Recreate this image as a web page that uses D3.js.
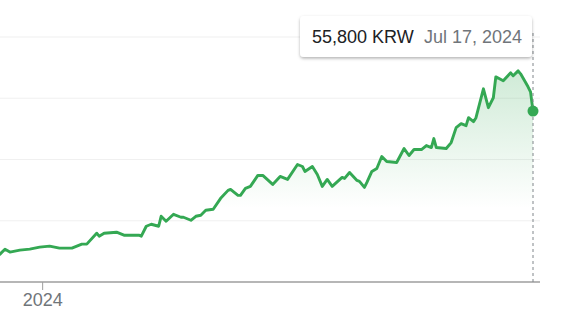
<!DOCTYPE html>
<html lang="en">
<head>
  <meta charset="UTF-8" />
  <title>Price chart – KRW</title>
  <style>
    body {
      margin: 0;
      background: #fff;
      font-family: Arial, 'Liberation Sans', sans-serif;
    }
    svg { display: block; }
    .grid line { stroke: #f0f0f0; stroke-width: 1.2; }
    .x.axis path, .x.axis line { stroke: #9e9e9e; }
    .x.axis text { font-size: 18px; fill: #70757a; font-family: Arial, 'Liberation Sans', sans-serif; }
  </style>
</head>
<body>
  <svg id="chart" width="562" height="328"></svg>

  <script src="https://d3js.org/d3.v7.min.js"></script>
  <script>
    // Data (daily closes, KRW)
    const dates = [
      "2023-12-15","2023-12-17","2023-12-19","2023-12-23","2023-12-27","2023-12-31",
      "2024-01-04","2024-01-08","2024-01-13","2024-01-17","2024-01-19","2024-01-23",
      "2024-01-24","2024-01-26","2024-01-31","2024-02-03","2024-02-09","2024-02-10",
      "2024-02-12","2024-02-14","2024-02-17","2024-02-18","2024-02-20","2024-02-23",
      "2024-02-26","2024-02-27","2024-03-01","2024-03-03","2024-03-05","2024-03-07",
      "2024-03-10","2024-03-13","2024-03-16","2024-03-17","2024-03-20","2024-03-21",
      "2024-03-23","2024-03-25","2024-03-28","2024-03-30","2024-04-03","2024-04-06",
      "2024-04-09","2024-04-13","2024-04-15","2024-04-16","2024-04-19","2024-04-21",
      "2024-04-23","2024-04-25","2024-04-27","2024-05-01","2024-05-02","2024-05-04",
      "2024-05-07","2024-05-08","2024-05-10","2024-05-11","2024-05-13","2024-05-15",
      "2024-05-17","2024-05-19","2024-05-23","2024-05-26","2024-05-28","2024-05-30",
      "2024-06-02","2024-06-04","2024-06-06","2024-06-07","2024-06-08","2024-06-12",
      "2024-06-14","2024-06-16","2024-06-18","2024-06-20","2024-06-21","2024-06-23",
      "2024-06-24","2024-06-27","2024-06-29","2024-07-01","2024-07-02","2024-07-05",
      "2024-07-08","2024-07-09","2024-07-11","2024-07-12","2024-07-15","2024-07-16",
      "2024-07-17"
    ];
    const prices = [
      9100, 10700, 9760, 10400, 10730, 11380,
      11710, 11060, 11060, 12360, 12360, 15940,
      14960, 15940, 16260, 15280, 15280, 14960,
      18210, 18860, 18210, 21460, 19840, 22110,
      21140, 21140, 20160, 21460, 21790, 23410,
      23740, 27320, 29920, 30240, 28290, 28290,
      30570, 31220, 34800, 34800, 31870, 34470,
      33500, 38370, 37720, 36100, 37720, 35120,
      31220, 33500, 31220, 34150, 33820, 35770,
      33170, 32850, 30890, 32520, 36100, 37070,
      40980, 39350, 39020, 43580, 41300, 43250,
      43250, 44550, 43900, 46830, 43900, 43580,
      45530, 50410, 51710, 51060, 53660, 52360,
      53660, 63090, 56910, 60160, 66990, 65690,
      68290, 67320, 68940, 67970, 63740, 62110,
      55800
    ];
    const gridValues = [20000, 40000, 60000, 80000];
    const xTicks = ["2024-01-01"];
    const tooltipPrice = "55,800 KRW";
    const tooltipDate = "Jul 17, 2024";

    const parse = d3.timeParse("%Y-%m-%d");
    const data = dates.map((d, i) => ({ date: parse(d), value: prices[i] }));
    const last = data[data.length - 1];

    const svg = d3.select("#chart");
    const plotRight = 540;
    const baseY = 282;

    const x = d3.scaleTime()
      .domain([parse("2023-12-15"), parse("2024-07-17")])
      .range([0, 533]);
    const y = d3.scaleLinear()
      .domain([0, 80000])
      .range([baseY, 37]);

    // gradient under the line
    const defs = svg.append("defs");
    const grad = defs.append("linearGradient")
      .attr("id", "areaFill")
      .attr("gradientUnits", "userSpaceOnUse")
      .attr("x1", 0).attr("x2", 0)
      .attr("y1", y(70000)).attr("y2", y(24000));
    grad.append("stop").attr("offset", "0%").attr("stop-color", "#34a853").attr("stop-opacity", 0.24);
    grad.append("stop").attr("offset", "100%").attr("stop-color", "#34a853").attr("stop-opacity", 0);

    const shadow = defs.append("filter").attr("id", "tipShadow")
      .attr("x", "-10%").attr("y", "-20%").attr("width", "120%").attr("height", "160%");
    shadow.append("feDropShadow")
      .attr("dx", 0).attr("dy", 1.5).attr("stdDeviation", 1.6)
      .attr("flood-color", "#000").attr("flood-opacity", 0.3);

    // horizontal gridlines
    svg.append("g").attr("class", "grid")
      .selectAll("line")
      .data(gridValues)
      .join("line")
      .attr("x1", 0).attr("x2", plotRight)
      .attr("y1", d => y(d)).attr("y2", d => y(d));

    // area + line
    const area = d3.area()
      .x(d => x(d.date))
      .y0(baseY)
      .y1(d => y(d.value));
    svg.append("path")
      .datum(data)
      .attr("d", area)
      .attr("fill", "url(#areaFill)");

    const line = d3.line()
      .x(d => x(d.date))
      .y(d => y(d.value));
    svg.append("path")
      .datum(data)
      .attr("d", line)
      .attr("fill", "none")
      .attr("stroke", "#34a853")
      .attr("stroke-width", 2.9)
      .attr("stroke-linejoin", "round")
      .attr("stroke-linecap", "round");

    // x axis
    const xAxis = d3.axisBottom(x)
      .tickValues(xTicks.map(parse))
      .tickFormat(d3.timeFormat("%Y"))
      .tickSizeOuter(0)
      .tickSize(8)
      .tickPadding(3);
    const axisG = svg.append("g")
      .attr("class", "x axis")
      .attr("transform", `translate(0,${baseY})`)
      .call(xAxis);
    axisG.select(".domain")
      .attr("d", `M0,0H${plotRight}`)
      .attr("stroke-width", 1.6);

    // hover marker
    svg.append("line")
      .attr("x1", x(last.date)).attr("x2", x(last.date))
      .attr("y1", 33).attr("y2", baseY)
      .attr("stroke", "#80868b")
      .attr("stroke-width", 1)
      .attr("stroke-dasharray", "3,3");

    svg.append("circle")
      .attr("cx", x(last.date))
      .attr("cy", y(last.value))
      .attr("r", 5.5)
      .attr("fill", "#34a853");

    // tooltip
    const tip = svg.append("g").attr("transform", "translate(300,16)");
    tip.append("rect")
      .attr("width", 232).attr("height", 41)
      .attr("rx", 4)
      .attr("fill", "#fff")
      .attr("filter", "url(#tipShadow)");
    tip.append("text")
      .attr("x", 12).attr("y", 27)
      .attr("font-size", 18)
      .attr("fill", "#202124")
      .text(tooltipPrice);
    tip.append("text")
      .attr("x", 124).attr("y", 27)
      .attr("font-size", 18)
      .attr("fill", "#70757a")
      .text(tooltipDate);
  </script>
</body>
</html>
